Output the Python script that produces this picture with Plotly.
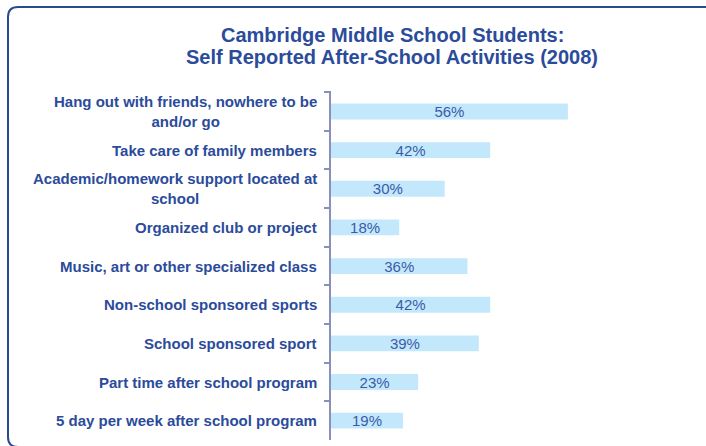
import plotly.graph_objects as go

categories = [
    "Hang out with friends, nowhere to be<br>and/or go",
    "Take care of family members",
    "Academic/homework support located at<br>school",
    "Organized club or project",
    "Music, art or other specialized class",
    "Non-school sponsored sports",
    "School sponsored sport",
    "Part time after school program",
    "5 day per week after school program",
]
bar_values = [62.5, 42, 30, 18, 36, 42, 39, 23, 19]
value_labels = ["56%", "42%", "30%", "18%", "36%", "42%", "39%", "23%", "19%"]
title_lines = ["Cambridge Middle School Students:", "Self Reported After-School Activities (2008)"]

W, H = 706, 446
ML, MR, MT, MB = 331, 16, 91, 6
PW, PH = W - ML - MR, H - MT - MB

TEXT_BLUE = "#2B4B9B"
FONT = "Liberation Sans"

def px(x):
    return (x - ML) / PW

def py(y):
    return (H - MB - y) / PH

fig = go.Figure()
fig.add_trace(go.Bar(
    x=bar_values, y=categories, orientation="h",
    marker=dict(color="#C3E8FB", line=dict(width=0)),
    text=value_labels, textposition="inside", insidetextanchor="middle",
    constraintext="none",
    textfont=dict(family=FONT, size=15, color="#3A5BA8"),
    hoverinfo="skip",
))

annotations = []
for c in categories:
    annotations.append(dict(
        x=0, xref="paper", y=c, yref="y", xanchor="right", yanchor="middle",
        xshift=-12, align="center", showarrow=False, text=c,
        font=dict(family=FONT, size=15, color=TEXT_BLUE, weight="bold"),
    ))

for line, yc in zip(title_lines, [35, 57]):
    annotations.append(dict(
        x=px(392), xref="paper", y=py(yc), yref="paper", xanchor="center", yanchor="middle",
        showarrow=False, text=line,
        font=dict(family=FONT, size=20, color=TEXT_BLUE, weight="bold"),
    ))

# rounded frame
L, T, R, B, r = 8, 7, 730, 447, 10
path = (f"M {px(R)},{py(T)} L {px(L + r)},{py(T)} Q {px(L)},{py(T)} {px(L)},{py(T + r)} "
        f"L {px(L)},{py(B - r)} Q {px(L)},{py(B)} {px(L + r)},{py(B)} L {px(R)},{py(B)}")

fig.update_layout(
    width=W, height=H,
    margin=dict(l=ML, r=MR, t=MT, b=MB, pad=0),
    paper_bgcolor="white", plot_bgcolor="white",
    showlegend=False,
    bargap=0.59,
    xaxis=dict(visible=False, range=[0, PW / 3.79], fixedrange=True),
    yaxis=dict(
        type="category", autorange="reversed", showticklabels=False,
        showline=True, linecolor="#8890BC", linewidth=1.5,
        ticks="outside", tickson="boundaries", ticklen=5, tickwidth=1.5, tickcolor="#8890BC",
        showgrid=False, zeroline=False, fixedrange=True,
    ),
    annotations=annotations,
    shapes=[dict(type="path", xref="paper", yref="paper", path=path,
                 line=dict(color="#2A4A90", width=2), fillcolor="rgba(0,0,0,0)")],
)

fig.write_html("out.html", config={"displayModeBar": False},
               post_script="document.body.style.margin='0';")
